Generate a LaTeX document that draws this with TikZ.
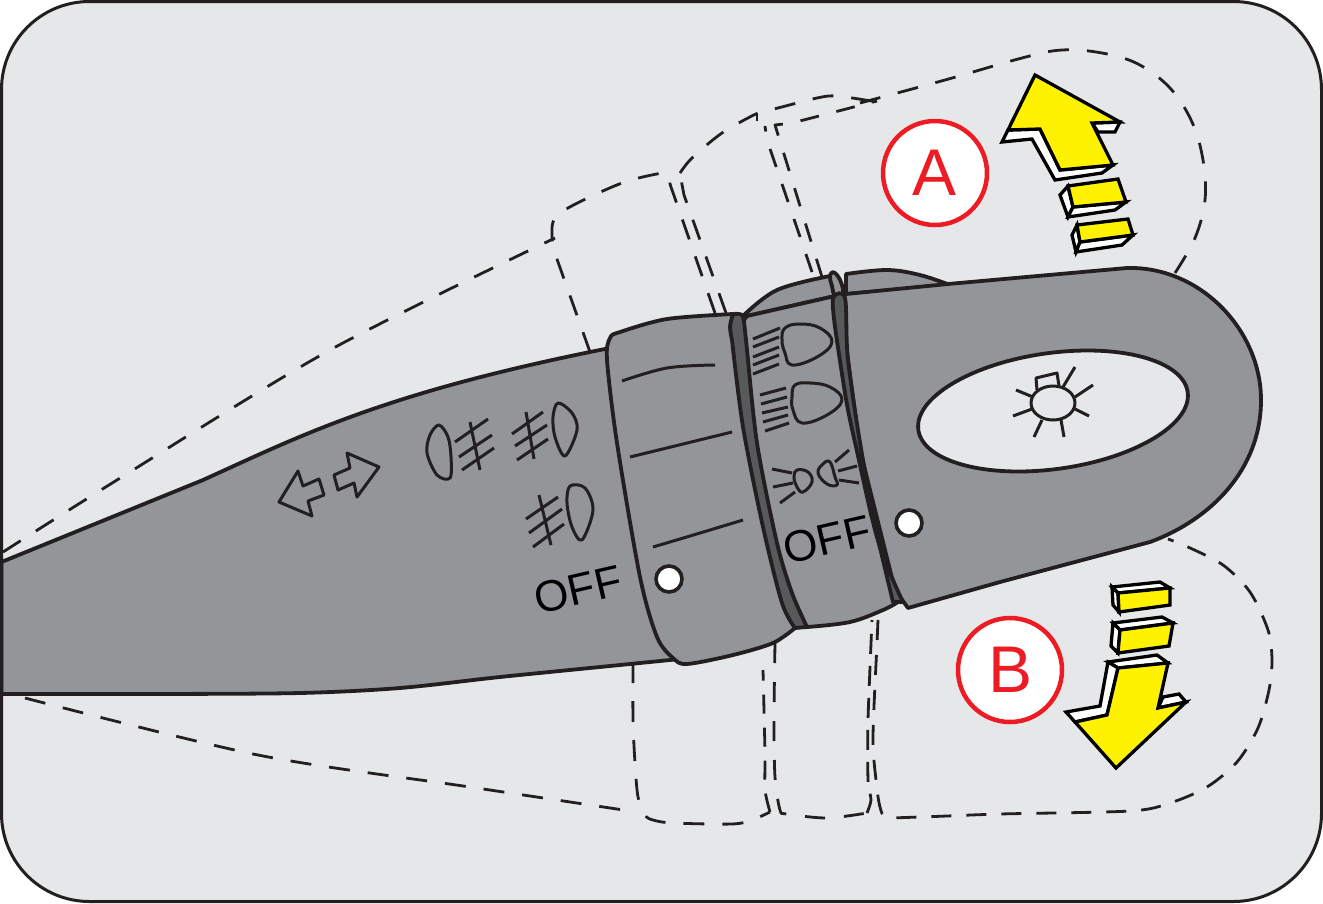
\documentclass[tikz,border=0pt]{standalone}
\usepackage{fontspec}
\setmainfont{Liberation Sans}
\definecolor{ink}{HTML}{231F20}
\definecolor{panel}{HTML}{E6E7E9}
\definecolor{body}{HTML}{939598}
\definecolor{band}{HTML}{58595B}
\definecolor{arrowy}{HTML}{FFF200}
\definecolor{badge}{HTML}{ED1C24}
\tikzset{
  ghost/.style={draw=ink,line width=2.8pt,dash pattern=on 21pt off 18pt,line join=round},
  ghostshort/.style={draw=ink,line width=2.8pt,dash pattern=on 19pt off 18pt,line join=round},
  part/.style={draw=ink,line width=3.8pt,fill=body,line join=round},
  bandpart/.style={draw=ink,line width=3.8pt,fill=band,line join=round},
  icon/.style={draw=ink,line width=3pt,line join=round},
  thinicon/.style={draw=ink,line width=3pt,line join=round},
  ay/.style={draw=black,line width=3.3pt,fill=arrowy,line join=miter},
  aw/.style={draw=black,line width=3.3pt,fill=white,line join=miter},
  dotmark/.style={draw=ink,line width=3.6pt,fill=white,circle,minimum size=26pt,inner sep=0pt},
  letterbadge/.style={draw=badge,line width=4.5pt,fill=white,circle,minimum size=104pt,inner sep=0pt,text=badge,font=\fontsize{66}{66}\selectfont},
  offlabel/.style={text=black,inner sep=0pt,font=\fontsize{44}{44}\selectfont}
}
\begin{document}
\begin{tikzpicture}[x=1pt,y=-1pt]
\useasboundingbox (0,0) rectangle (1323,903);
\fill[white] (0,0) rectangle (1323,903);
\fill[panel,rounded corners=88pt] (1.5,1.5) rectangle (1321.5,901.5);

% ghost outlines, upper
\draw[ghost] plot[smooth,tension=.5] coordinates {(3,552) (117,480) (330,350) (555,238)};
\draw[ghost] (590,352) -- (558,262) -- plot[smooth,tension=.6] coordinates {(553,247) (553,222) (568,208) (622,183) (662,173)};
\draw[ghost] (715,313) -- (671,187) -- (667,174);
\draw[ghost] (726,313) -- (684,195) -- (680,174);
\draw[ghost] plot[smooth,tension=.5] coordinates {(680,173) (692,158) (722,133) (758,113) (778,108) (817,98) (837,96) (877,102)};
\draw[ghostshort] (757,113) -- (757,121);
\draw[ghostshort] (812,272) -- (767,140) -- (765,126);
\draw[ghostshort] (822,277) -- (775,125) -- (792,123) -- (877,101);
\draw[ghost] plot[smooth,tension=.6] coordinates {(860,103) (945,80) (1022,58) (1062,50) (1102,53) (1138,64) (1170,88) (1192,122) (1203,160) (1205,200) (1195,238) (1175,273)};

% ghost outlines, lower
\draw[ghost] plot[smooth,tension=.5] coordinates {(25,698) (258,755) (470,787) (637,812)};
\draw[ghost] plot[smooth,tension=.5] coordinates {(633,662) (633,720) (635,763) (638,797) (645,815) (653,820) (673,823) (732,824) (752,820) (770,812)};
\draw[ghost,dash pattern=on 19pt off 14pt] plot[smooth,tension=.4] coordinates {(770,812) (765,790) (765,753) (763,670)};
\draw[ghost,dash pattern=on 20pt off 19pt] plot[smooth,tension=.5] coordinates {(775,643) (774,720) (775,777) (780,810) (787,814) (827,818) (867,813)};
\draw[ghost,dash pattern=on 20pt off 12pt] plot[smooth,tension=.4] coordinates {(867,813) (871,800) (868,780) (868,720) (872,620)};
\draw[ghost,dash pattern=on 20pt off 15pt] plot[smooth,tension=.5] coordinates {(878,620) (877,643) (873,737) (876,780) (880,807) (887,817) (920,817) (1000,814) (1130,811) (1170,803) (1207,787) (1237,762) (1258,728) (1269,690) (1272,660) (1268,630) (1250,592) (1223,565) (1188,547) (1168,539)};

% handle
\draw[part] (1.5,562) -- (203,480) .. controls (300,436) and (380,395) .. (590,352) -- (650,340) -- (680,660) -- plot[smooth,tension=.5] coordinates {(680,659) (620,665) (500,677) (400,688) (300,693) (150,694) (1.5,694)} -- cycle;

% head with fin
\draw[part] plot[smooth,tension=.6] coordinates {(846,274) (887,270) (920,275) (950,285)} -- (846,294) -- cycle;
\draw[part] (846,294) -- (948,284) -- (1127,268) .. controls (1200,266) and (1261,330) .. (1261,400) .. controls (1261,470) and (1210,520) .. (1150,542) -- (1000,582) -- (908,608) -- (895,590) -- (860,450) -- (840,300) -- cycle;
\draw[draw=ink,line width=3.8pt,fill=panel,rotate around={8:(1053,411)}] (1053,411) ellipse [x radius=136,y radius=58];

% sun icon
\draw[thinicon] (1053,403) ellipse [x radius=22,y radius=17];
\draw[thinicon] (1063,387) -- (1075,367) (1075,397) -- (1093,385) (1075,409) -- (1089,416) (1061,420) -- (1064,437) (1042,420) -- (1034,437) (1032,409) -- (1013,416) (1033,397) -- (1016,390);
\draw[thinicon] (1037,390) -- (1036,378) -- (1057,373) -- (1059,386);

% middle section
\draw[part] plot[smooth,tension=.6] coordinates {(743,316) (777,290) (830,276)} -- (835,296) -- (747,316) -- cycle;
\draw[part] plot[smooth cycle,tension=.8] coordinates {(830,276) (835,273) (842,285) (842,296) (835,296) (832,286)};
\draw[part] (747,316) -- (835,296) -- plot[smooth,tension=.5] coordinates {(840,300) (842,360) (855,440) (875,530) (898,602)} -- plot[smooth,tension=.6] coordinates {(898,602) (883,610) (850,622) (807,627)} -- (780,625) -- (728,340) -- cycle;

% collar
\draw[part] plot[smooth,tension=.5] coordinates {(733,314) (667,319) (620,332) (610,338) (607,360) (617,443) (640,577) (657,637) (673,658) (687,664) (733,655) (773,643) (795,628)} -- plot[smooth,tension=.5] coordinates {(795,628) (782,590) (763,500) (745,400) (738,320)} -- cycle;

% bands
\draw[bandpart] plot[smooth,tension=.5] coordinates {(732,340) (730,327) (733,315) (738,314) (743,317) (746,340) (757,443) (777,543) (792,593) (807,627)} -- (795,628) -- plot[smooth,tension=.5] coordinates {(795,628) (782,603) (763,527) (743,427) (732,340)} -- cycle;
\draw[bandpart] plot[smooth,tension=.5] coordinates {(835,327) (833,298) (845,298) (848,360) (863,460) (883,553) (903,602)} -- (893,602) -- plot[smooth,tension=.5] coordinates {(893,602) (867,493) (848,410) (835,327)} -- cycle;

% collar marks
\draw[icon] plot[smooth,tension=.6] coordinates {(622,381) (667,368) (715,365)};
\draw[icon] (630,457) -- (732,432);
\draw[icon] plot[smooth,tension=.6] coordinates {(653,547) (700,533) (743,520)};

% direction arrows and fog lamps
\draw[thinicon] (298,471) -- (303,486) -- (319,479) -- (324,495) -- (308,501) -- (312,516) -- (279,502) -- cycle;
\draw[thinicon] (347,453) -- (379,467) -- (357,497) -- (354,483) -- (338,490) -- (334,475) -- (350,468) -- cycle;
\draw[thinicon] plot[smooth cycle,tension=.55] coordinates {(439,425) (448,437) (451,457) (450,478) (437,475) (427,453) (430,435)};
\draw[thinicon] (455,442) -- (488,419) (459,457) -- (492,435) (462,470) -- (494,448) (470,422) -- (480,470);
\draw[thinicon] plot[smooth cycle,tension=.55] coordinates {(558,403) (572,413) (577,430) (565,456) (555,437) (553,417)};
\draw[thinicon] (512,434) -- (543,412) (515,446) -- (547,425) (517,460) -- (548,439) (526,412) -- (534,459);
\draw[thinicon] plot[smooth cycle,tension=.55] coordinates {(570,486) (585,488) (593,510) (582,540) (572,527) (567,503)};
\draw[thinicon] (526,519) -- (558,497) (529,533) -- (562,509) (533,547) -- (564,524) (539,495) -- (551,545);

% headlamp icons
\draw[thinicon] plot[smooth cycle,tension=.7] coordinates {(785,328) (800,324) (820,328) (832,342) (817,357) (792,365) (785,353) (782,340)};
\draw[thinicon] (753,339) -- (780,328) (753,347) -- (779,337) (753,357) -- (779,347) (753,365) -- (779,355) (753,374) -- (779,364);
\draw[thinicon] plot[smooth cycle,tension=.7] coordinates {(795,385) (810,383) (830,387) (842,400) (827,415) (802,423) (793,410) (792,397)};
\draw[thinicon] (760,395) -- (786,388) (761,404) -- (787,397) (762,413) -- (788,407) (763,422) -- (788,415) (765,431) -- (789,423);
\draw[thinicon] plot[smooth cycle,tension=.7] coordinates {(797,470) (808,472) (812,482) (803,492) (797,487) (794,477)};
\draw[thinicon] (772,469) -- (792,473) (773,487) -- (793,483) (780,503) -- (795,492);
\draw[thinicon] plot[smooth cycle,tension=.7] coordinates {(830,462) (835,477) (837,485) (827,484) (818,473) (823,464)};
\draw[thinicon] (835,462) -- (849,450) (838,471) -- (857,466) (839,480) -- (859,483);

% labels on the stalk
\node[offlabel,rotate=13] (offleft) at (578,590) {OFF};
\node[offlabel,rotate=13] (offright) at (827,540) {OFF};
\node[dotmark] (dotleft) at (669,579) {};
\node[dotmark] (dotright) at (909,523) {};

% badges
\node[letterbadge] (badgeA) at (935,173) {A};
\node[letterbadge] (badgeB) at (1010,670) {B};

% arrow A
\draw[aw] (1008,130) -- (1002,142) -- (1032,139) -- (1055,180) -- (1102,173) -- (1113,165) -- (1060,170) -- (1040,129) -- cycle;
\draw[aw] (1092,123) -- (1120,122) -- (1115,132) -- (1098,132) -- cycle;
\draw[ay] (1035,75) -- (1008,130) -- (1040,129) -- (1060,170) -- (1113,165) -- (1092,123) -- (1120,122) -- cycle;
\draw[aw] (1068,186) -- (1060,195) -- (1068,217) -- (1073,207) -- cycle;
\draw[aw] (1073,207) -- (1126,202) -- (1115,210) -- (1068,217) -- cycle;
\draw[ay] (1068,186) -- (1118,179) -- (1126,202) -- (1073,207) -- cycle;
\draw[aw] (1077,225) -- (1072,235) -- (1076,252) -- (1080,242) -- cycle;
\draw[aw] (1080,242) -- (1133,235) -- (1122,245) -- (1076,252) -- cycle;
\draw[ay] (1077,225) -- (1128,219) -- (1133,235) -- (1080,242) -- cycle;

% arrow B
\draw[aw] (1118,593) -- (1112,587) -- (1160,582) -- (1170,588) -- cycle;
\draw[aw] (1112,587) -- (1113,605) -- (1119,612) -- (1118,593) -- cycle;
\draw[ay] (1118,593) -- (1170,588) -- (1170,605) -- (1119,612) -- cycle;
\draw[aw] (1120,630) -- (1113,623) -- (1162,617) -- (1173,623) -- cycle;
\draw[aw] (1113,623) -- (1111,646) -- (1118,653) -- (1120,630) -- cycle;
\draw[ay] (1120,630) -- (1173,623) -- (1169,646) -- (1118,653) -- cycle;
\draw[aw] (1118,668) -- (1108,662) -- (1157,655) -- (1168,663) -- cycle;
\draw[aw] (1108,662) -- (1100,706) -- (1066,712) -- (1075,722) -- (1107,715) -- (1118,668) -- cycle;
\draw[aw] (1158,708) -- (1163,697) -- (1179,694) -- (1186,702) -- cycle;
\draw[ay] (1118,668) -- (1168,663) -- (1158,708) -- (1186,702) -- (1116,768) -- (1075,722) -- (1107,715) -- cycle;

% frame
\draw[ink,line width=3pt,rounded corners=88pt] (1.5,1.5) rectangle (1321.5,901.5);
\end{tikzpicture}
\end{document}
